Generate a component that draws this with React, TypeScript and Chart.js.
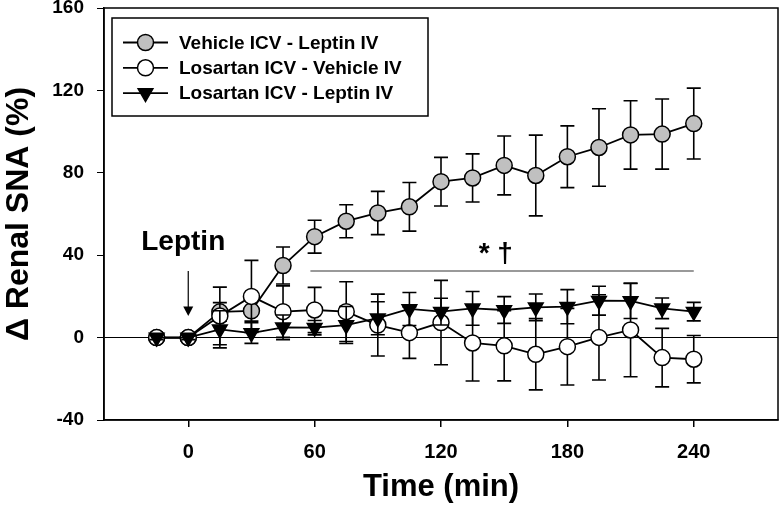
import React, { useEffect, useRef } from "react";
import { Chart, registerables } from "chart.js";

Chart.register(...registerables);

// ---- data ----
const times = [-15, 0, 15, 30, 45, 60, 75, 90, 105, 120, 135, 150, 165, 180, 195, 210, 225, 240];

const vehLepMean = [0, 0, 12.5, 13, 35, 49, 56.5, 60.5, 63.5, 75.7, 77.5, 83.6, 78.7, 87.8, 92.3, 98.4, 98.8, 103.9];
const vehLepErr = [1.5, 1.5, 4.5, 5, 9, 8, 8, 10.5, 11.8, 11.8, 11.7, 14.3, 19.6, 15, 18.8, 16.6, 17, 17.2];

const losVehMean = [0, 0, 10.5, 20, 12.6, 13.4, 12.6, 6.1, 2.4, 7.3, -2.6, -4, -8.1, -4.4, 0.1, 3.7, -9.7, -10.5];
const losVehErr = [1, 1, 14, 17.5, 12.5, 11, 14.5, 15, 12.5, 20.5, 18.5, 17, 17.3, 18.6, 20.7, 22.7, 14.2, 11.5];

const losLepMean = [0, 0, 4, 2.2, 5, 4.8, 6.1, 9.4, 13.9, 12.6, 14.2, 13.4, 14.7, 15, 17.9, 17.8, 14.2, 12.6];
const losLepErr = [1, 1, 9, 5, 6, 3.5, 9, 8, 8, 6.5, 8.2, 6.5, 6.5, 8.3, 7, 8.5, 5, 4.5];

const seriesLabels = ["Vehicle ICV - Leptin IV", "Losartan ICV - Vehicle IV", "Losartan ICV - Leptin IV"];
const xTicks = [0, 60, 120, 180, 240];
const yTicks = [-40, 0, 40, 80, 120, 160];
const xTitle = "Time (min)";
const yTitle = "\u0394 Renal SNA (%)";

// annotations (in data units)
const leptinText = "Leptin";
const leptinAt = { x: 0, y: 42.5 };
const arrowFrom = { x: 0, y: 32.3 };
const arrowTo = { x: 0, y: 10.5 };
const sigLine = { x0: 58, x1: 240, y: 32.3 };
const sigText = "* \u2020";
const sigTextAt = { x: 146, y: 36.5 };

const FONT = "'Liberation Sans', Arial, Helvetica, sans-serif";

const pts = (m: number[]) => m.map((v, i) => ({ x: times[i], y: v }));

const errorBarPlugin = {
  id: "errorBars",
  beforeDatasetDraw(chart: any, args: any) {
    const ds: any = chart.data.datasets[args.index];
    const err: number[] | undefined = ds.errors;
    if (!err) return;
    const xs = chart.scales.x;
    const ys = chart.scales.y;
    const ctx = chart.ctx;
    ctx.save();
    ctx.strokeStyle = "#000";
    ctx.lineWidth = 1.6;
    ds.data.forEach((p: any, i: number) => {
      const px = xs.getPixelForValue(p.x);
      const top = ys.getPixelForValue(p.y + err[i]);
      const bot = ys.getPixelForValue(p.y - err[i]);
      ctx.beginPath();
      ctx.moveTo(px, top);
      ctx.lineTo(px, bot);
      ctx.moveTo(px - 7, top);
      ctx.lineTo(px + 7, top);
      ctx.moveTo(px - 7, bot);
      ctx.lineTo(px + 7, bot);
      ctx.stroke();
    });
    ctx.restore();
  },
};

const framePlugin = {
  id: "frame",
  beforeDatasetsDraw(chart: any) {
    const { left, top, right, bottom } = chart.chartArea;
    const ctx = chart.ctx;
    ctx.save();
    ctx.strokeStyle = "#000";
    ctx.lineWidth = 1.5;
    ctx.strokeRect(left, top, right - left, bottom - top);
    ctx.restore();
  },
};

const annotationPlugin = {
  id: "annotations",
  afterDatasetsDraw(chart: any) {
    const xs = chart.scales.x;
    const ys = chart.scales.y;
    const ctx = chart.ctx;
    ctx.save();
    // significance line
    ctx.strokeStyle = "#777";
    ctx.lineWidth = 1.5;
    ctx.beginPath();
    ctx.moveTo(xs.getPixelForValue(sigLine.x0), ys.getPixelForValue(sigLine.y));
    ctx.lineTo(xs.getPixelForValue(sigLine.x1), ys.getPixelForValue(sigLine.y));
    ctx.stroke();
    // significance text
    ctx.fillStyle = "#000";
    ctx.font = `bold 28px ${FONT}`;
    ctx.textAlign = "center";
    ctx.textBaseline = "alphabetic";
    ctx.fillText(sigText, xs.getPixelForValue(sigTextAt.x), ys.getPixelForValue(sigTextAt.y));
    // Leptin label
    ctx.fillText(leptinText, xs.getPixelForValue(leptinAt.x) - 5, ys.getPixelForValue(leptinAt.y));
    // arrow
    const ax = xs.getPixelForValue(arrowFrom.x);
    const ay0 = ys.getPixelForValue(arrowFrom.y);
    const ay1 = ys.getPixelForValue(arrowTo.y);
    ctx.strokeStyle = "#000";
    ctx.lineWidth = 1.2;
    ctx.beginPath();
    ctx.moveTo(ax, ay0);
    ctx.lineTo(ax, ay1 - 8);
    ctx.stroke();
    ctx.beginPath();
    ctx.moveTo(ax - 5, ay1 - 9.5);
    ctx.lineTo(ax + 5, ay1 - 9.5);
    ctx.lineTo(ax, ay1);
    ctx.closePath();
    ctx.fill();
    ctx.restore();
  },
};

const legendPlugin = {
  id: "customLegend",
  afterDraw(chart: any) {
    const { left, top } = chart.chartArea;
    const ctx = chart.ctx;
    const x0 = left + 8;
    const y0 = top + 10;
    const w = 316;
    const h = 98;
    ctx.save();
    ctx.fillStyle = "#fff";
    ctx.fillRect(x0, y0, w, h);
    ctx.strokeStyle = "#000";
    ctx.lineWidth = 1.5;
    ctx.strokeRect(x0, y0, w, h);
    const dsets: any[] = chart.data.datasets;
    dsets.forEach((ds, i) => {
      const ry = y0 + 24.5 + i * 25.3;
      ctx.strokeStyle = "#000";
      ctx.lineWidth = 1.8;
      ctx.beginPath();
      ctx.moveTo(x0 + 11, ry);
      ctx.lineTo(x0 + 56, ry);
      ctx.stroke();
      const mx = x0 + 33.5;
      ctx.lineWidth = 1.5;
      ctx.fillStyle = ds.pointBackgroundColor;
      if (ds.pointStyle === "triangle") {
        const r = 8.5;
        ctx.beginPath();
        ctx.moveTo(mx - r * 0.866, ry - r * 0.5);
        ctx.lineTo(mx + r * 0.866, ry - r * 0.5);
        ctx.lineTo(mx, ry + r);
        ctx.closePath();
        ctx.fill();
        ctx.stroke();
      } else {
        ctx.beginPath();
        ctx.arc(mx, ry, 8, 0, Math.PI * 2);
        ctx.fill();
        ctx.stroke();
      }
      ctx.fillStyle = "#000";
      ctx.font = `bold 19px ${FONT}`;
      ctx.textAlign = "left";
      ctx.textBaseline = "middle";
      ctx.fillText(ds.label, x0 + 67, ry + 1);
    });
    ctx.restore();
  },
};

export default function App() {
  const ref = useRef<HTMLCanvasElement | null>(null);

  useEffect(() => {
    if (!ref.current) return;
    const common = {
      borderColor: "#000",
      borderWidth: 1.8,
      pointBorderColor: "#000",
      pointBorderWidth: 1.5,
      pointRadius: 8,
      pointHoverRadius: 8,
      tension: 0,
      fill: false,
    };
    const chart = new Chart(ref.current, {
      type: "line",
      data: {
        datasets: [
          {
            ...common,
            label: seriesLabels[0],
            data: pts(vehLepMean),
            errors: vehLepErr,
            pointStyle: "circle",
            pointBackgroundColor: "#c0c0c0",
            order: 3,
          } as any,
          {
            ...common,
            label: seriesLabels[1],
            data: pts(losVehMean),
            errors: losVehErr,
            pointStyle: "circle",
            pointBackgroundColor: "#ffffff",
            order: 2,
          } as any,
          {
            ...common,
            label: seriesLabels[2],
            data: pts(losLepMean),
            errors: losLepErr,
            pointStyle: "triangle",
            pointRotation: 180,
            pointRadius: 8.5,
            pointHoverRadius: 8.5,
            pointBackgroundColor: "#000000",
            order: 1,
          } as any,
        ],
      },
      options: {
        animation: false,
        responsive: false,
        devicePixelRatio: 1,
        layout: { autoPadding: false, padding: { top: 8, right: 2, left: 0, bottom: 0 } },
        plugins: {
          legend: { display: false },
          tooltip: { enabled: false },
        },
        scales: {
          x: {
            type: "linear",
            min: -40,
            max: 280,
            afterBuildTicks: (s: any) => {
              s.ticks = xTicks.map((v) => ({ value: v }));
            },
            afterFit: (s: any) => {
              s.height = 88;
              s.paddingLeft = 0;
              s.paddingRight = 0;
              s.paddingTop = 0;
              s.paddingBottom = 0;
            },
            grid: {
              drawOnChartArea: false,
              color: "#000",
              tickColor: "#000",
              tickLength: 7,
              lineWidth: 1.5,
            },
            border: { display: true, color: "#000", width: 1.5 },
            ticks: {
              color: "#000",
              font: { family: FONT, size: 20, weight: "bold" },
              padding: 13,
              maxRotation: 0,
            },
            title: {
              display: true,
              text: xTitle,
              color: "#000",
              font: { family: FONT, size: 31, weight: "bold" },
              padding: { top: 0, bottom: 2 },
            },
          },
          y: {
            type: "linear",
            min: -40,
            max: 160,
            afterBuildTicks: (s: any) => {
              s.ticks = yTicks.map((v) => ({ value: v }));
            },
            afterFit: (s: any) => {
              s.width = 104;
              s.paddingLeft = 0;
              s.paddingRight = 0;
              s.paddingTop = 0;
              s.paddingBottom = 0;
            },
            grid: {
              drawOnChartArea: true,
              color: (c: any) => (c.tick && c.tick.value === 0 ? "#000" : "rgba(0,0,0,0)"),
              tickColor: "#000",
              tickLength: 7,
              lineWidth: 1,
            },
            border: { display: true, color: "#000", width: 1.5 },
            ticks: {
              color: "#000",
              font: { family: FONT, size: 19, weight: "bold" },
              padding: 13,
            },
            title: {
              display: true,
              text: yTitle,
              color: "#000",
              font: { family: FONT, size: 32, weight: "bold" },
              padding: { top: 0, bottom: 0 },
            },
          },
        },
      } as any,
      plugins: [framePlugin, errorBarPlugin, annotationPlugin, legendPlugin],
    });
    return () => chart.destroy();
  }, []);

  return (
    <div style={{ position: "fixed", left: 0, top: 0, width: 780, height: 508, background: "#fff" }}>
      <canvas ref={ref} width={780} height={508} style={{ display: "block", width: 780, height: 508 }} />
    </div>
  );
}
